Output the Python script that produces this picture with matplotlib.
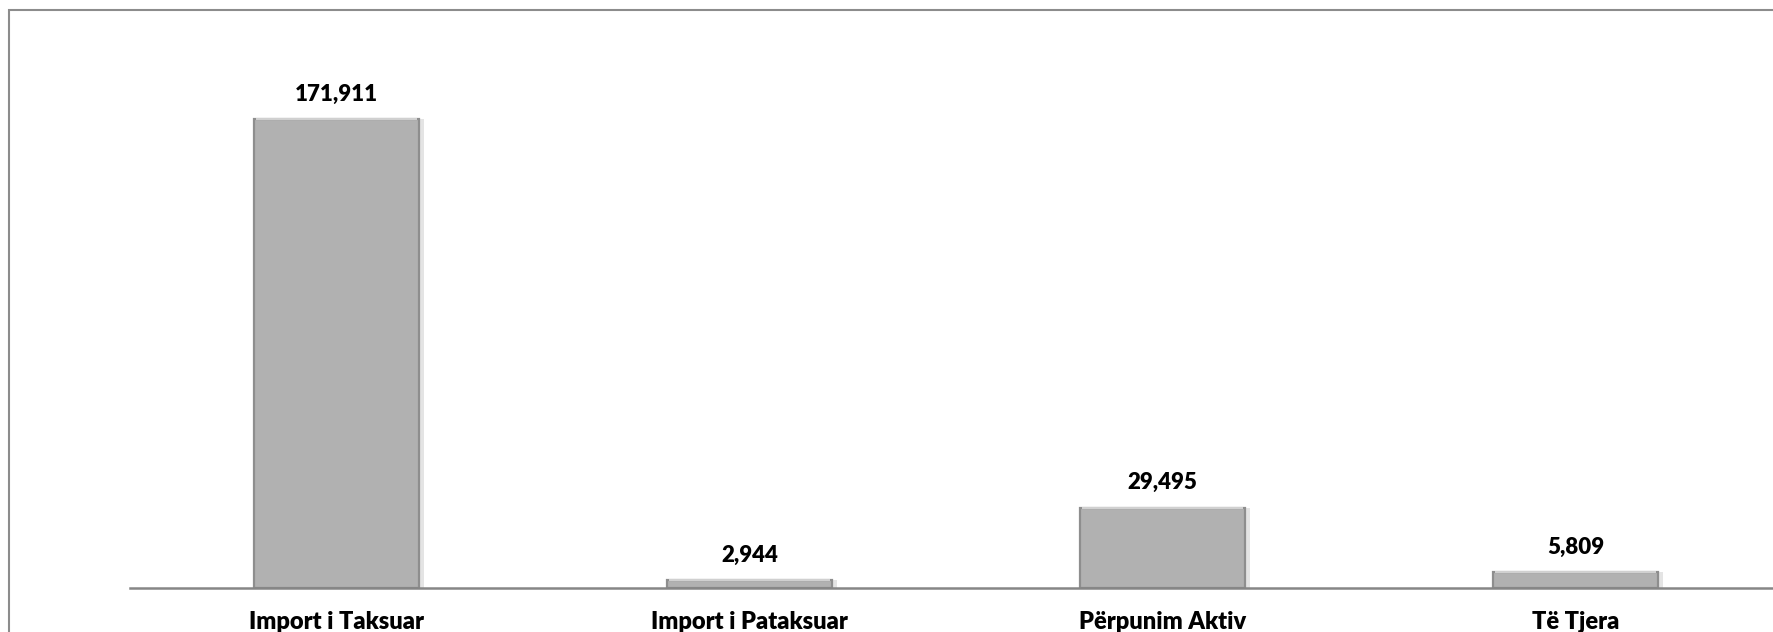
import matplotlib.pyplot as plt
from matplotlib.patches import Rectangle
import numpy as np

plt.rcParams['font.family'] = ['Lato', 'DejaVu Sans']

categories = ['Import i Taksuar', 'Import i Pataksuar', 'Përpunim Aktiv', 'Të Tjera']
values = [171911, 2944, 29495, 5809]

W, H = 1773, 632
fig = plt.figure(figsize=(W / 100, H / 100), dpi=100)

# outer frame (cut off at right and bottom like the source)
fig.patches.append(Rectangle((9 / W, -0.05), 1.1, 1 - 10 / H + 0.05,
                             transform=fig.transFigure, fill=False,
                             edgecolor='#8c8c8c', linewidth=1.5))

# axes: 4 slots of ~413 px starting at x=130, baseline at y=588
ax = fig.add_axes([130 / W, 1 - 588 / H, 1652 / W, 545.6 / H])
x = np.arange(len(categories))

# soft shadow, then bar, then a bevel edge
ax.bar(x + 0.006, values, width=0.41, color='#e4e4e4', zorder=1)
bars = ax.bar(x, values, width=0.4, color='#b1b1b1', edgecolor='#8e8e8e',
              linewidth=1.6, zorder=2)
for b in bars:
    bx, by, bw, bh = b.get_x(), b.get_y(), b.get_width(), b.get_height()
    ax.plot([bx + 0.004, bx + bw - 0.004], [by + bh, by + bh], color='#dedede',
            linewidth=1.2, zorder=3, solid_capstyle='butt')

ax.set_xlim(-0.5, 3.5)
ax.set_ylim(0, 200000)
for s in ['top', 'right', 'left']:
    ax.spines[s].set_visible(False)
ax.spines['bottom'].set_color('#868686')
ax.spines['bottom'].set_linewidth(1.8)
ax.spines['bottom'].set_zorder(4)
ax.set_yticks([])
ax.set_xticks([])

for xi, v in zip(x, values):
    ax.annotate('{:,}'.format(v), (xi, v), xytext=(0, 25), textcoords='offset pixels',
                ha='center', va='center', fontsize=16, fontweight='heavy', color='black')
for xi, c in zip(x, categories):
    ax.annotate(c, (xi, 0), xytext=(0, -34), textcoords='offset pixels',
                ha='center', va='center', fontsize=17, fontweight='heavy',
                color='black', annotation_clip=False)

fig.savefig('out.png', dpi=100)
